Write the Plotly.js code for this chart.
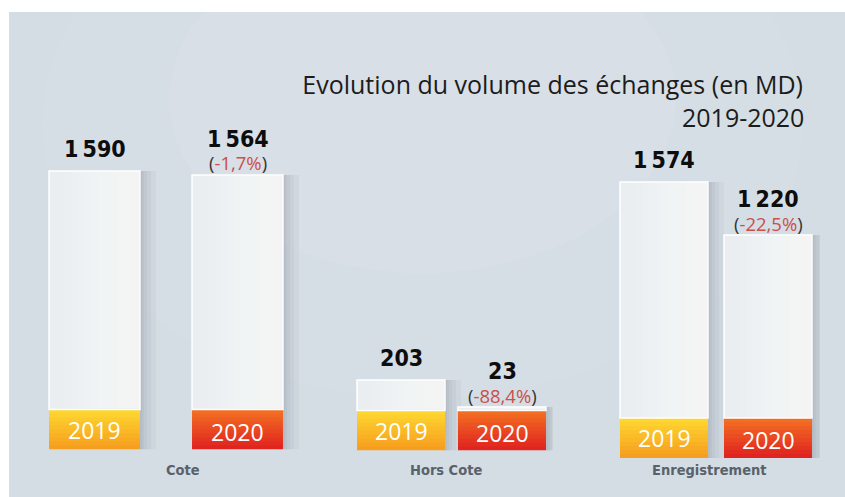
<!DOCTYPE html>
<html>
<head>
<meta charset="utf-8">
<script src="https://cdn.plot.ly/plotly-3.0.1.min.js"></script>
<style>
  html, body { margin: 0; padding: 0; background: #ffffff; }
  #chart { width: 845px; height: 497px; }
</style>
</head>
<body>
<div id="chart"></div>
<script>
// ---------- DATA ----------
const categories = ['Cote', 'Hors Cote', 'Enregistrement'];
const years = ['2019', '2020'];
const volume2019 = [1590, 203, 1574];
const volume2020 = [1564, 23, 1220];
const change2020 = ['-1,7%', '-88,4%', '-22,5%'];
const titleText = 'Evolution du volume des échanges (en MD)';
const subtitleText = '2019-2020';

// ---------- LAYOUT / STYLE ----------
const W = 845, H = 497;
const K = 0.15;               // pixels per MD
const FOOT = 40 / K;          // height of coloured footer (in MD units)
const NSEG = 10;              // footer gradient slices
const NSTRIP = 10;            // body horizontal-gradient strips
const groupStyle = [
  { dom: [23, 309],  base: 449.5, width: 0.636, label: 183 },
  { dom: [350.5, 552.5], base: 450.5, width: 0.871, label: 446 },
  { dom: [612, 820], base: 458, width: 0.846, label: 709 }
];
const col2019 = { top: [254, 214, 48], bot: [246, 158, 30] };
const col2020 = { top: [242, 110, 34], bot: [224, 36, 31] };

function lerp(a, b, t) { return a.map((v, i) => Math.round(v + (b[i] - v) * t)); }
function rgb(c) { return 'rgb(' + c.join(',') + ')'; }
function fmt(v) { return String(v).replace(/\B(?=(\d{3})+(?!\d))/g, '\u2009'); }

const numFont = { family: 'DejaVu Sans Condensed, sans-serif', size: 23, color: '#0d0d0d', weight: 'bold' };
const pctFont = { family: 'Open Sans, Noto Sans, sans-serif', size: 18.5, color: '#333333' };
const yearFont = { family: 'Open Sans, Noto Sans, sans-serif', size: 23, color: '#ffffff' };
const catFont = { family: 'DejaVu Sans Condensed, sans-serif', size: 14.5, color: '#59626b', weight: 'bold' };
const titleFont = { family: 'Open Sans, Noto Sans, sans-serif', size: 25, color: '#1c1c1c' };

const traces = [];
const annotations = [];
const layout = {
  width: W, height: H,
  margin: { l: 0, r: 0, t: 0, b: 0, pad: 0 },
  paper_bgcolor: '#ffffff',
  plot_bgcolor: 'rgba(0,0,0,0)',
  barmode: 'overlay',
  showlegend: false,
  hovermode: false,
  title: {
    text: titleText,
    x: 803 / W, xanchor: 'right', xref: 'paper',
    y: 1 - 85 / H, yanchor: 'middle', yref: 'container',
    font: titleFont
  },
  shapes: [
    { type: 'rect', xref: 'paper', yref: 'paper', x0: 9 / W, x1: 1, y0: 0, y1: 1 - 12 / H,
      fillcolor: '#d4dde4', line: { width: 0 }, layer: 'below' },
    { type: 'circle', xref: 'paper', yref: 'paper', x0: 0.05, x1: 0.95, y0: 0.2, y1: 1.3,
      fillcolor: 'rgba(255,255,255,0.05)', line: { width: 0 }, layer: 'below' },
    { type: 'circle', xref: 'paper', yref: 'paper', x0: 0.2, x1: 0.8, y0: 0.45, y1: 1.15,
      fillcolor: 'rgba(255,255,255,0.05)', line: { width: 0 }, layer: 'below' }
  ],
  annotations: annotations
};

annotations.push({
  xref: 'paper', yref: 'paper', x: 805 / W, y: 1 - 117 / H, xanchor: 'right', yanchor: 'middle',
  text: subtitleText, showarrow: false, font: titleFont, borderpad: 0
});

categories.forEach((cat, g) => {
  const s = g === 0 ? '' : String(g + 1);
  const xa = 'x' + s, ya = 'y' + s;
  const st = groupStyle[g];
  const w = st.width;
  const vals = [volume2019[g], volume2020[g]];
  const spacingPx = (st.dom[1] - st.dom[0]) / 2;

  layout['xaxis' + s] = {
    type: 'category', domain: [st.dom[0] / W, st.dom[1] / W], range: [-0.5, 1.5],
    visible: false, anchor: ya, fixedrange: true
  };
  layout['yaxis' + s] = {
    domain: [(H - st.base) / H, 1], range: [0, st.base / K],
    visible: false, anchor: xa, fixedrange: true
  };

  // soft shadow on the right of each bar
  [16, 11, 7, 4, 2].forEach(px => {
    traces.push({
      type: 'bar', x: years, y: vals.map(v => v + FOOT), base: [0, 0],
      xaxis: xa, yaxis: ya, width: px / spacingPx, offset: w / 2,
      marker: { color: 'rgba(95,110,125,0.06)', line: { width: 0 } },
      hoverinfo: 'skip'
    });
  });

  // coloured footer with vertical gradient
  const overlap = 1.5 / K;
  for (let i = 0; i < NSEG; i++) {
    const t = i / (NSEG - 1);
    const h = FOOT / NSEG;
    const hh = i === NSEG - 1 ? h : h + overlap;
    traces.push({
      type: 'bar', x: years, y: [hh, hh], base: [i * h, i * h],
      xaxis: xa, yaxis: ya, width: w,
      marker: { color: [rgb(lerp(col2019.bot, col2019.top, t)), rgb(lerp(col2020.bot, col2020.top, t))], line: { width: 0 } },
      hoverinfo: 'skip'
    });
  }

  // white body = value
  traces.push({
    type: 'bar', x: years, y: vals, base: [FOOT, FOOT],
    xaxis: xa, yaxis: ya, width: w,
    marker: { color: '#eaeef1', line: { color: '#ffffff', width: 1.5 } },
    hoverinfo: 'skip'
  });
  // subtle left-to-right lightening of the body
  for (let i = 1; i <= NSTRIP; i++) {
    const off = -w / 2 + w * 0.1 + (w * 0.8) * (i / NSTRIP) * 0.9;
    traces.push({
      type: 'bar', x: years, y: vals.map(v => Math.max(v - 1.5 / K, 0)), base: [FOOT + 0.75 / K, FOOT + 0.75 / K],
      xaxis: xa, yaxis: ya, width: w / 2 - off - 1 / spacingPx, offset: off,
      marker: { color: 'rgba(255,255,255,0.08)', line: { width: 0 } },
      hoverinfo: 'skip'
    });
  }

  // value labels (x given as category index)
  annotations.push({
    xref: xa, yref: ya, x: 0, y: vals[0] + FOOT, xanchor: 'center', yanchor: 'middle', yshift: 22,
    text: fmt(vals[0]), showarrow: false, font: numFont
  });
  annotations.push({
    xref: xa, yref: ya, x: 1, y: vals[1] + FOOT, xanchor: 'center', yanchor: 'middle', yshift: 36,
    text: fmt(vals[1]), showarrow: false, font: numFont
  });
  annotations.push({
    xref: xa, yref: ya, x: 1, y: vals[1] + FOOT, xanchor: 'center', yanchor: 'middle', yshift: 12,
    text: '(<span style="color:#c9504c">' + change2020[g] + '</span>)', showarrow: false, font: pctFont
  });
  // year labels inside footers
  years.forEach((yr, j) => {
    annotations.push({
      xref: xa, yref: ya, x: j, y: FOOT / 2, xanchor: 'center', yanchor: 'middle', yshift: j === 0 ? 0 : -2,
      text: yr, showarrow: false, font: yearFont
    });
  });
  // category label
  annotations.push({
    xref: 'paper', yref: 'paper', x: st.label / W, y: (H - 470) / H, xanchor: 'center', yanchor: 'middle',
    text: cat, showarrow: false, font: catFont
  });
});

Plotly.newPlot('chart', traces, layout, { staticPlot: true, displayModeBar: false });
</script>
</body>
</html>
